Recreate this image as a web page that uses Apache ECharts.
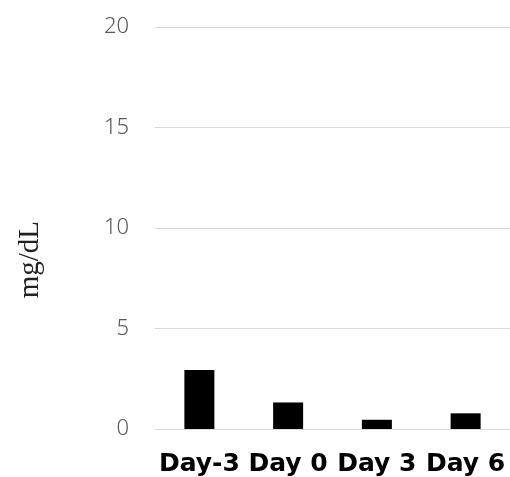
<!DOCTYPE html>
<html>
<head>
<meta charset="utf-8">
<script src="https://cdn.jsdelivr.net/npm/echarts@6/dist/echarts.min.js"></script>
<style>html,body{margin:0;padding:0;background:#fff;}#c{width:510px;height:477px;}</style>
</head>
<body>
<div id="c"></div>
<script>
const categories = ['Day-3', 'Day 0', 'Day 3', 'Day 6'];
const values = [2.94, 1.32, 0.46, 0.78];
const yTicks = { min: 0, max: 20, interval: 5 };
const yName = 'mg/dL';

const chart = echarts.init(document.getElementById('c'));
chart.setOption({
  animation: false,
  backgroundColor: '#fff',
  grid: { left: 155, right: -5, top: 27, bottom: 47, containLabel: false },
  xAxis: {
    type: 'category',
    data: categories,
    boundaryGap: true,
    axisLine: { show: true, lineStyle: { color: '#d9d9d9', width: 1 } },
    axisTick: { show: false },
    axisLabel: {
      interval: 0,
      color: '#000',
      fontFamily: 'DejaVu Sans',
      fontWeight: 'bold',
      fontSize: 25,
      margin: 23
    }
  },
  yAxis: {
    type: 'value',
    min: yTicks.min,
    max: yTicks.max,
    interval: yTicks.interval,
    axisLine: { show: false },
    axisTick: { show: false },
    splitLine: { lineStyle: { color: '#d9d9d9', width: 1 } },
    axisLabel: {
      color: '#595959',
      fontFamily: 'Noto Sans',
      fontWeight: 300,
      fontSize: 22,
      margin: 26
    }
  },
  graphic: [{
    type: 'text',
    left: 16,
    top: 221,
    rotation: Math.PI / 2,
    style: {
      text: yName,
      fill: '#222',
      font: '29px "Liberation Serif"'
    }
  }],
  series: [{
    type: 'bar',
    data: values,
    barWidth: 30,
    itemStyle: { color: '#000' }
  }]
});
</script>
</body>
</html>
